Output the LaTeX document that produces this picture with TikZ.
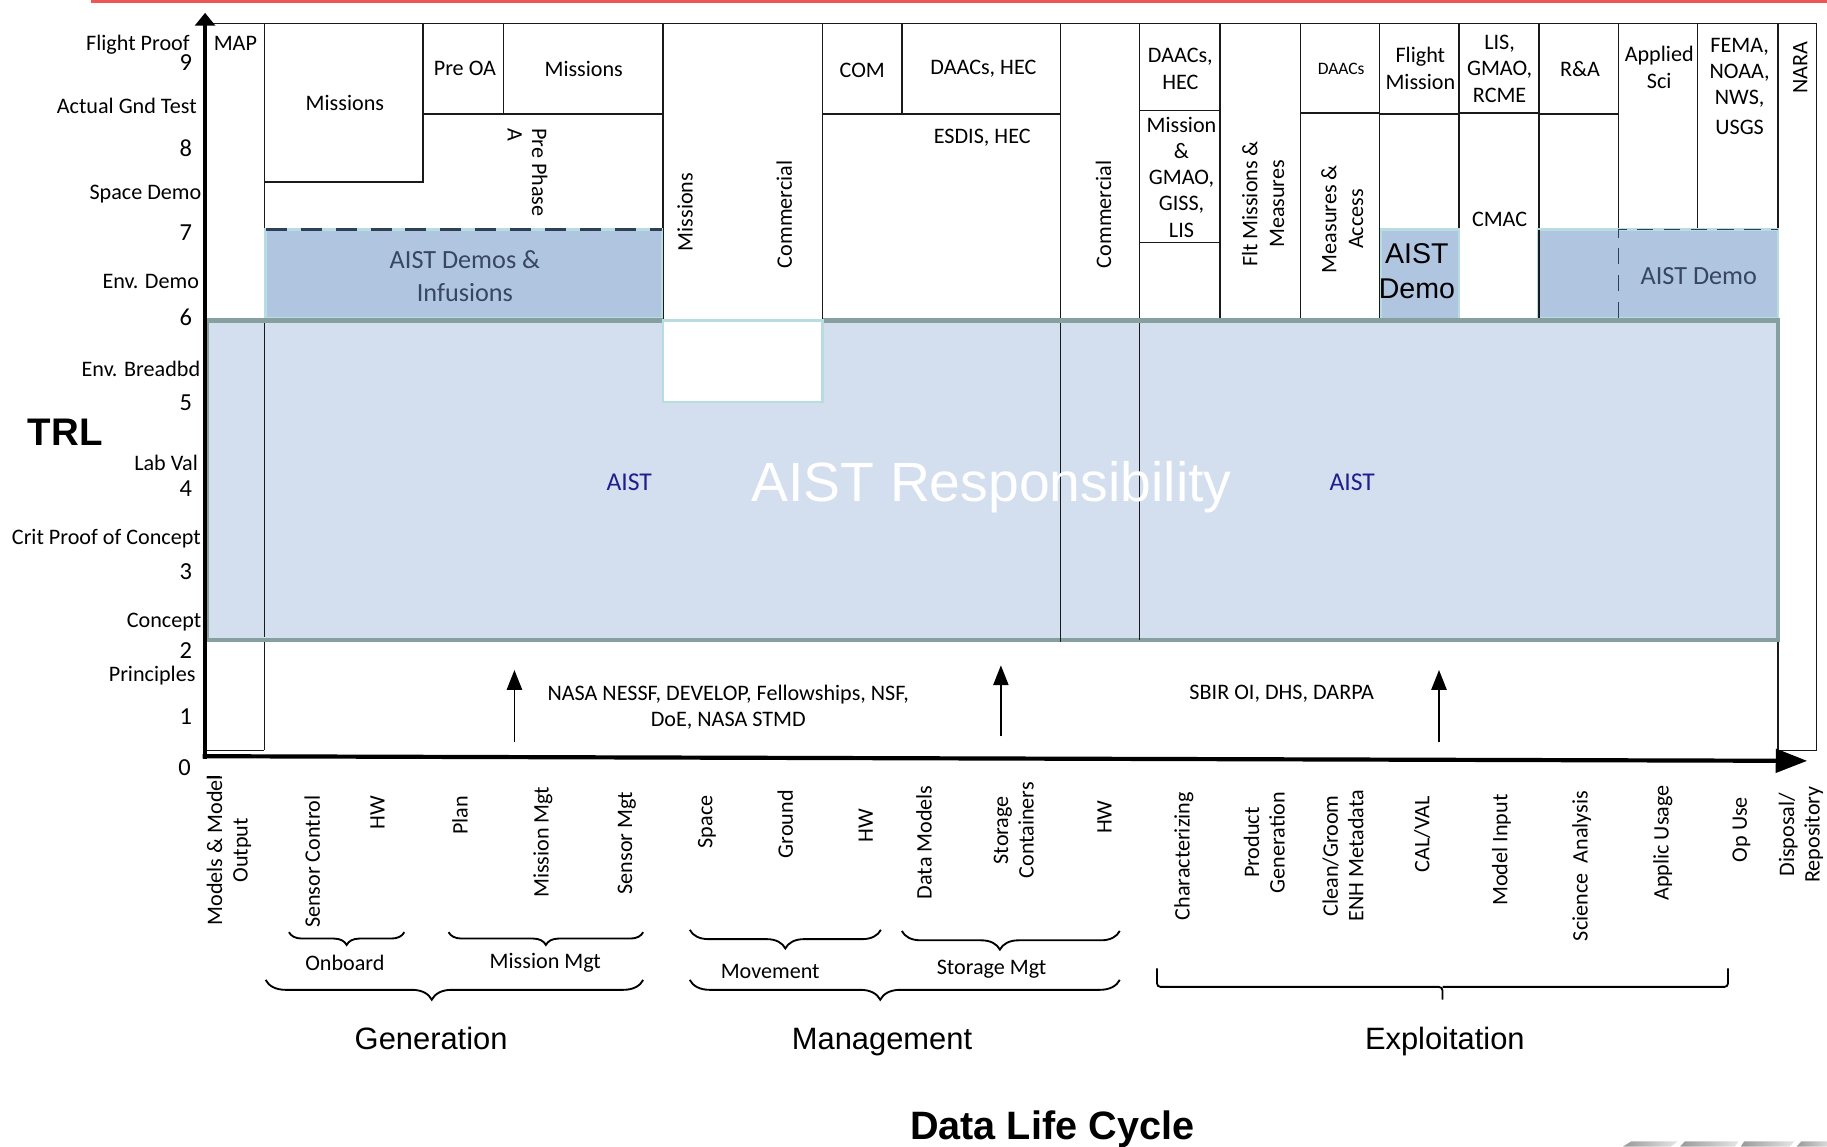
\documentclass[tikz,border=0pt]{standalone}
\usepackage{fontspec}
\setmainfont{Carlito}
\newfontfamily\arialf{Liberation Sans}
\usetikzlibrary{arrows.meta,decorations.pathreplacing}

\definecolor{redline}{RGB}{240,85,85}
\definecolor{gridblk}{RGB}{26,26,26}
\definecolor{demofill}{RGB}{176,197,224}
\definecolor{demoedge}{RGB}{183,221,224}
\definecolor{aistfill}{RGB}{211,223,238}
\definecolor{aistedge}{RGB}{134,160,160}
\definecolor{dashcol}{RGB}{46,64,87}
\definecolor{aistnavy}{RGB}{30,30,140}
\definecolor{demotext}{RGB}{55,70,98}

\newcommand\setfs[2]{\fontsize{#1}{#2}\selectfont}

\begin{document}
\begin{tikzpicture}[x=1pt,y=-1pt,
  gridline/.style={draw=gridblk, line width=1.3pt},
  thinline/.style={draw=gridblk, line width=1pt},
  lab/.style={font=\setfs{19}{23}, inner sep=0pt, align=center},
  num/.style={font=\setfs{21}{24}, inner sep=0pt, anchor=east},
  ylab/.style={font=\setfs{19}{22}, inner sep=0pt, anchor=east},
  vlab/.style={font=\setfs{19}{22}, inner sep=0pt, align=center, rotate=90, anchor=east},
  demobox/.style={fill=demofill, draw=demoedge, line width=2pt},
  demodash/.style={draw=dashcol, line width=1.8pt, dash pattern=on 18pt off 12pt},
  demodashb/.style={draw=dashcol, line width=1.4pt, dash pattern=on 14pt off 9pt},
  curly/.style={decorate, decoration={brace, mirror, amplitude=#1}, line width=1.6pt},
  uparrow/.style={-{Triangle[length=17pt,width=13pt]}, line width=1.6pt},
  axis/.style={line width=3.6pt},
  bigtitle/.style={font=\arialf\setfs{26.5}{30}, inner sep=0pt}
]
\useasboundingbox (0,0) rectangle (1568,984);

% red rule along the top edge
\draw[redline, line width=2.5pt] (78,1.2) -- (1568,1.2);

% ---- table of organisations (TRL 6 to 9) ----
\draw[gridline] (176,20) -- (1559,20);
\draw[gridline] (227,20) -- (227,644);
\draw[gridline] (176,644) -- (227,644);
\draw[gridline] (227,156) -- (363,156) -- (363,20);
\draw[gridline] (432,20) -- (432,98);
\draw[gridline] (363,98) -- (569,98);
\draw[gridline] (569,20) -- (569,275);
\draw[gridline] (706,20) -- (706,275);
\draw[gridline] (774,20) -- (774,98);
\draw[gridline] (706,98) -- (910,98);
\draw[gridline] (910,20) -- (910,275);
\draw[gridline] (978,20) -- (978,275);
\draw[gridline] (978,95) -- (1047,95);
\draw[gridline] (978,208) -- (1047,208);
\draw[gridline] (1047,20) -- (1047,275);
\draw[gridline] (1116,20) -- (1116,275);
\draw[gridline] (1116,97) -- (1184,97);
\draw[gridline] (1184,20) -- (1184,275);
\draw[gridline] (1184,98) -- (1252,98);
\draw[gridline] (1252,20) -- (1252,275);
\draw[gridline] (1252,97) -- (1321,97);
\draw[gridline] (1321,20) -- (1321,275);
\draw[gridline] (1321,98) -- (1389,98);
\draw[gridline] (1389,20) -- (1389,197);
\draw[gridline] (1457,20) -- (1457,197);
\draw[gridline] (1526,20) -- (1526,644) -- (1559,644) -- (1559,20);

% ---- AIST demo boxes ----
\draw[demobox] (228,197) rectangle (568,273);
\draw[demobox] (1185,197) rectangle (1252,275);
\draw[demobox] (1320,197) rectangle (1526,273);
\draw[gridline] (1321,197) -- (1321,273);
\draw[demodash] (228,197) -- (568,197);
\draw[demodashb] (1389,273) -- (1389,197) -- (1526,197);

% ---- AIST responsibility band (TRL 2 to 6) ----
\fill[aistfill] (177,275) rectangle (1526,549);
\fill[white] (569,275) rectangle (706,345);
\draw[aistedge, line width=3.6pt] (569,275) -- (177.5,275) -- (177.5,549) -- (1526,549) -- (1526,275) -- (706,275);
\draw[demoedge, line width=2pt] (569,275) rectangle (706,345);
\draw[thinline] (227,277) -- (227,547);
\draw[thinline] (910,277) -- (910,551);
\draw[thinline] (978,277) -- (978,549);

% ---- axes ----
\coordinate (yorig) at (176,651);
\coordinate (ytip) at (176,11);
\coordinate (xorig) at (174,649);
\coordinate (xtip) at (1551,653);
\draw[axis, -{Triangle[length=11pt,width=17pt]}] (yorig) -- (ytip);
\draw[axis, -{Triangle[length=27pt,width=20pt]}] (xorig) -- (xtip);
\draw[line width=1.2pt] (178,667) -- (189,667);

% ---- TRL scale ----
\node[font=\arialf\bfseries\setfs{33}{36}, inner sep=0pt] (trl) at (56,371) {TRL};
\node[ylab] (yl9) at (163,38) {Flight Proof};
\node[num] (n9) at (165,54) {9};
\node[ylab] (yl8) at (169,91) {Actual Gnd Test};
\node[num] (n8) at (165,127) {8};
\node[ylab] (yl7) at (173,167) {Space Demo};
\node[num] (n7) at (165,200) {7};
\node[ylab] (yl6) at (171,242) {Env. Demo};
\node[num] (n6) at (165,272) {6};
\node[ylab] (yl5) at (172,317) {Env. Breadbd};
\node[num] (n5) at (165,346) {5};
\node[ylab] (yl4) at (170,397.5) {Lab Val};
\node[num] (n4) at (165,419) {4};
\node[ylab] (yl3) at (172.5,462) {Crit Proof of Concept};
\node[num] (n3) at (165,491) {3};
\node[ylab] (yl2) at (173,534) {Concept};
\node[num] (n2) at (165,558) {2};
\node[ylab] (yl1) at (168,579.5) {Principles};
\node[num] (n1) at (165,615) {1};
\node[num] (n0) at (164,659) {0};

% ---- cell texts ----
\node[lab] (tmap) at (202,37) {MAP};
\node[lab] (tmis1) at (296,88) {Missions};
\node[lab] (tpreoa) at (399,59) {Pre OA};
\node[lab] (tmis2) at (501,59) {Missions};
\node[lab, font=\setfs{19}{21}, rotate=-90, anchor=north west, align=left] (tpre) at (470,110) {Pre Phase\\A};
\node[lab, rotate=90] (tmis3) at (588,182) {Missions};
\node[lab, rotate=90] (tcom1) at (673,184) {Commercial};
\node[lab] (tcom) at (740,60) {COM};
\node[lab] (tdaac1) at (844,59) {DAACs, HEC};
\node[lab] (tesdis) at (843,118) {ESDIS, HEC};
\node[lab, rotate=90] (tcom2) at (947,184) {Commercial};
\node[lab] (tdaac2) at (1013,59) {DAACs,\\HEC};
\node[lab, font=\setfs{19}{22.5}] (tmgm) at (1014,152) {Mission\\\&\\GMAO,\\GISS,\\LIS};
\node[lab, rotate=90] (tflt) at (1084,175) {Flt Missions \&\\Measures};
\node[lab, font=\setfs{15}{18}] (tdaac3) at (1151,59) {DAACs};
\node[lab, rotate=90] (tmeas) at (1152,188) {Measures \&\\Access};
\node[lab] (tflight) at (1219,59) {Flight\\Mission};
\node[lab] (tlis) at (1287,59) {LIS,\\GMAO,\\RCME};
\node[lab] (tcmac) at (1287,188) {CMAC};
\node[lab] (tra) at (1356,59) {R\&A};
\node[lab] (tapp) at (1424,57.5) {Applied\\Sci};
\node[lab, font=\setfs{19}{22.5}] (tfema) at (1493,74) {FEMA,\\NOAA,\\NWS,\\[3pt]USGS};
\node[lab, rotate=90] (tnara) at (1545,58) {NARA};

% ---- demo and band texts ----
\node[lab, font=\setfs{22.5}{28}, text=demotext] (tdemos) at (399,237) {AIST Demos \&\\Infusions};
\node[lab, font=\arialf\setfs{24.5}{30}] (tdemob) at (1216,233) {AIST\\Demo};
\node[lab, font=\setfs{22.5}{26}, text=demotext] (tdemoc) at (1458,237) {AIST Demo};
\node[lab, font=\setfs{22}{26}, text=aistnavy, anchor=base] (taist1) at (540,421) {AIST};
\node[lab, font=\setfs{22}{26}, text=aistnavy, anchor=base] (taist2) at (1160.5,421) {AIST};
\node[lab, font=\arialf\setfs{47.5}{50}, text=white, anchor=base] (tresp) at (851,430.5) {AIST Responsibility};

% ---- lower-TRL funding sources ----
\node[lab, font=\setfs{19}{22}] (tnasa) at (625,607) {NASA NESSF, DEVELOP, Fellowships, NSF,\\DoE, NASA STMD};
\node[lab] (tsbir) at (1100,595.5) {SBIR OI, DHS, DARPA};
\coordinate (a1s) at (441.5,637); \coordinate (a1e) at (441.5,575);
\coordinate (a2s) at (859,632);   \coordinate (a2e) at (859,571);
\coordinate (a3s) at (1235,637);  \coordinate (a3e) at (1235,575);
\draw[uparrow] (a1s) -- (a1e);
\draw[uparrow] (a2s) -- (a2e);
\draw[uparrow] (a3s) -- (a3e);

% ---- data life cycle steps ----
\node[vlab] (xmod) at (196.5,665) {Models \& Model\\Output};
\node[vlab] (xsen) at (268,682.6) {Sensor Control};
\node[vlab] (xhw1) at (324,682.6) {HW};
\node[vlab] (xplan) at (394.7,683) {Plan};
\node[vlab] (xmm) at (466,675) {Mission Mgt};
\node[vlab] (xsm) at (538,679.6) {Sensor Mgt};
\node[vlab] (xspace) at (606.7,682.6) {Space};
\node[vlab] (xgnd) at (674,678) {Ground};
\node[vlab] (xhw2) at (743,693.8) {HW};
\node[vlab] (xdm) at (793,673.8) {Data Models};
\node[vlab] (xsc) at (870,671) {Storage\\Containers};
\node[vlab] (xhw3) at (948,686.7) {HW};
\node[vlab] (xchar) at (1016,679.6) {Characterizing};
\node[vlab] (xpg) at (1085,679.6) {Product\\Generation};
\node[vlab] (xcg) at (1152.6,678) {Clean/Groom\\ENH Metadata};
\node[vlab] (xcal) at (1220.6,683) {CAL/VAL};
\node[vlab] (xmi) at (1288.5,681.6) {Model Input};
\node[vlab] (xsa) at (1357.4,678.7) {Science\ \ Analysis};
\node[vlab] (xau) at (1427,673.8) {Applic Usage};
\node[vlab] (xop) at (1494.5,683.8) {Op Use};
\node[vlab] (xdis) at (1545.6,674.7) {Disposal/\\Repository};

% ---- grouping braces ----
\draw[curly=11pt] (248,800) -- (347,800);
\draw[curly=11pt] (385,800) -- (552,800);
\draw[curly=16pt] (592,798) -- (756,798);
\draw[curly=16pt, decoration={aspect=0.45}] (774,799) -- (961,799);
\draw[curly=17pt, decoration={aspect=0.44}] (228,841) -- (552,841);
\draw[curly=17pt, decoration={aspect=0.443}] (592,841) -- (961,841);
\draw[line width=1.6pt, rounded corners=3pt] (993,831) |- (1238,847) -- (1238,858);
\draw[line width=1.6pt, rounded corners=3pt] (1483,831) |- (1238,847);

\node[lab] (lonb) at (296,826) {Onboard};
\node[lab] (lmm) at (468,826) {Mission Mgt};
\node[lab] (lmov) at (661,834) {Movement};
\node[lab] (lsto) at (851,831.5) {Storage Mgt};
\node[bigtitle, anchor=base] (lgen) at (370,901) {Generation};
\node[bigtitle, anchor=base] (lman) at (757,901) {Management};
\node[bigtitle, anchor=base] (lexp) at (1240,901) {Exploitation};

\node[font=\arialf\bfseries\setfs{34}{38}, inner sep=0pt] (tdlc) at (903,969) {Data Life Cycle};

% ---- cropped logo strip at the lower right ----
\shade[left color=gray!80, right color=gray!20] (1393,984) -- (1400,979.5) -- (1440,979.5) -- (1434,984) -- cycle;
\shade[left color=gray!80, right color=gray!20] (1442,984) -- (1446,979.5) -- (1492,979.5) -- (1489,984) -- cycle;
\shade[left color=gray!80, right color=gray!20] (1494,984) -- (1497,979.5) -- (1540,979.5) -- (1536,984) -- cycle;
\shade[left color=gray!80, right color=gray!30] (1542,984) -- (1546,979.5) -- (1568,979.5) -- (1568,984) -- cycle;
\end{tikzpicture}
\end{document}
